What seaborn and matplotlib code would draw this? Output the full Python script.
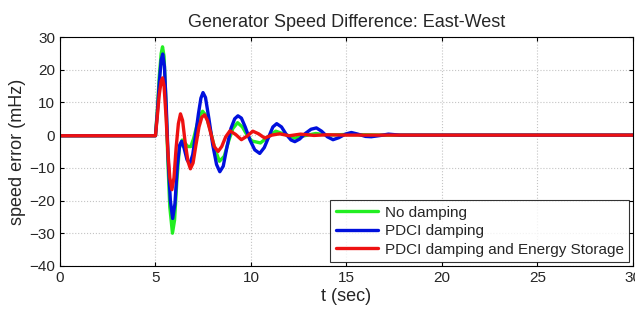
import numpy as np
import pandas as pd
import matplotlib
matplotlib.use('Agg')
import matplotlib.pyplot as plt
import seaborn as sns

# datos (t en segundos, error en mHz)
t_green = [0, 5.0, 5.1, 5.2, 5.3, 5.37, 5.45, 5.55, 5.65, 5.75, 5.89, 6.0, 6.12, 6.25, 6.4,
           6.55, 6.7, 6.85, 7.0, 7.15, 7.3, 7.47, 7.65, 7.85, 8.1, 8.35, 8.6, 8.85, 9.05,
           9.3, 9.55, 9.8, 10.05, 10.5, 10.9, 11.3, 11.8, 12.3, 12.8, 13.4, 14.0, 15, 17, 20, 30]
v_green = [-0.2, -0.2, 8, 18, 25, 27, 24, 10, -8, -22, -30, -26, -14, -4, -1.5,
           -2.5, -3.5, -3.5, -1, 2.5, 5.8, 7.3, 6, 2, -4, -8, -6.5, -1.5, 2,
           3.8, 2.5, 0, -1.8, -2.4, -0.5, 1.2, 0.2, -0.9, -0.2, 0.5, 0, 0.2, 0, 0, 0]

t_blue = [0, 5.0, 5.1, 5.2, 5.3, 5.38, 5.47, 5.57, 5.67, 5.78, 5.9, 6.02, 6.15, 6.27, 6.37,
          6.5, 6.65, 6.8, 6.95, 7.1, 7.25, 7.38, 7.49, 7.62, 7.8, 8.0, 8.2, 8.37, 8.55,
          8.75, 8.95, 9.15, 9.32, 9.5, 9.7, 9.95, 10.2, 10.46, 10.7, 10.95, 11.15, 11.35,
          11.6, 11.85, 12.1, 12.3, 12.55, 12.85, 13.15, 13.43, 13.7, 14.0, 14.3, 14.6,
          14.95, 15.26, 15.6, 16.0, 16.3, 16.8, 17.2, 17.8, 20, 30]
v_blue = [-0.2, -0.2, 7, 16, 23, 24.8, 21, 8, -8, -20, -25.5, -21, -9, -3, -1.9,
          -4, -7.5, -8.8, -6, 0, 6.5, 11.3, 13, 11.5, 5, -3, -9, -11.2, -9.5,
          -3.5, 2, 5, 5.9, 5.2, 2.5, -1.5, -4.5, -5.6, -3.8, -0.3, 2.5, 3.5,
          2.5, 0.2, -1.5, -2.0, -1.2, 0.5, 1.8, 2.2, 1.2, -0.5, -1.4, -0.8,
          0.3, 0.8, 0.3, -0.4, -0.5, -0.1, 0.3, 0, 0, 0]

t_red = [0, 5.0, 5.1, 5.2, 5.3, 5.37, 5.45, 5.55, 5.65, 5.75, 5.86, 5.97, 6.08, 6.2, 6.31,
         6.42, 6.55, 6.7, 6.83, 6.97, 7.12, 7.28, 7.43, 7.57, 7.72, 7.9, 8.08, 8.28, 8.47,
         8.68, 8.9, 9.2, 9.5, 9.8, 10.1, 10.4, 10.72, 11.1, 11.5, 12.0, 12.6, 13.3, 14, 15, 20, 30]
v_red = [-0.2, -0.2, 6, 12.5, 16.5, 17.5, 15, 6, -5, -13, -16.7, -13, -4, 3.5, 6.5,
         4.5, -2, -8, -10.3, -8.5, -3, 2.5, 5.5, 6.2, 4.5, 0.5, -3.5, -5, -3.5,
         -0.5, 1.3, 0.2, -1.4, -0.3, 1.2, 0.4, -0.9, 0, 0.4, -0.2, 0.3, -0.1, 0.1, 0, 0, 0]

series = [
    ('No damping', t_green, v_green, '#22ee22'),
    ('PDCI damping', t_blue, v_blue, '#0010dd'),
    ('PDCI damping and Energy Storage', t_red, v_red, '#ee1111'),
]

sns.set_style('white')
plt.rcParams['font.family'] = ['Liberation Sans', 'DejaVu Sans']

fig = plt.figure(figsize=(6.35, 3.11), dpi=100)
ax = fig.add_axes([0.0945, 0.145, 0.902, 0.736])

for nombre, t, v, c in series:
    sns.lineplot(x=t, y=v, ax=ax, color=c, linewidth=2.4, label=nombre,
                 sort=False, estimator=None)

ax.set_xlim(0, 30)
ax.set_ylim(-40, 30)
ax.set_xticks(np.arange(0, 31, 5))
ax.set_yticks(np.arange(-40, 31, 10))
ax.grid(True, linestyle=':', color='#c4c4c4', linewidth=0.8)
ax.tick_params(direction='in', length=3, labelsize=11, top=True, right=True,
               bottom=True, left=True, color='black')
for s in ax.spines.values():
    s.set_color('black')
    s.set_linewidth(0.8)

ax.set_title('Generator Speed Difference: East-West', fontsize=13, pad=7)
ax.set_xlabel('t (sec)', fontsize=13, labelpad=2)
ax.set_ylabel('speed error (mHz)', fontsize=13, labelpad=2)

leg = ax.legend(loc='lower right', fontsize=11, frameon=True, fancybox=False,
                borderaxespad=0.25, handlelength=2.8, borderpad=0.35,
                labelspacing=0.3, handletextpad=0.4)
leg.get_frame().set_edgecolor('black')
leg.get_frame().set_linewidth(0.8)

fig.savefig('out.png', dpi=100)
